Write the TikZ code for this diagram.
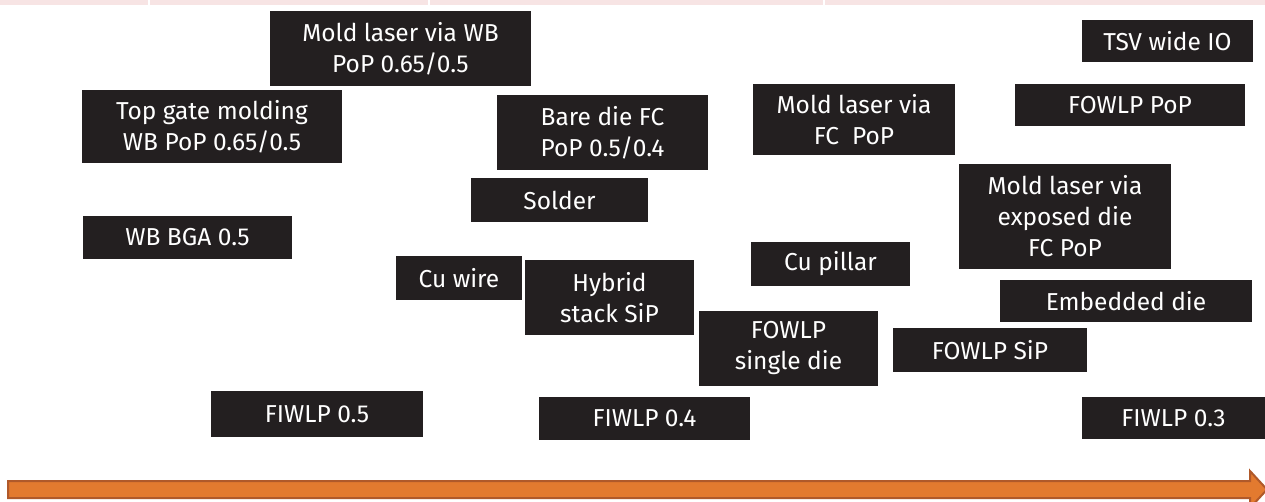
\documentclass[tikz,border=0pt]{standalone}
\usepackage{fontspec}
\setmainfont{Fira Sans}
\definecolor{boxbg}{HTML}{231F20}
\definecolor{band}{HTML}{F7E4E4}
\definecolor{arrfill}{HTML}{E37A2F}
\definecolor{arrline}{HTML}{B0592A}
\begin{document}
\begin{tikzpicture}[x=1pt,y=-1pt,
  blk/.style={fill=boxbg,draw=none,text=white,align=center,inner sep=0pt,
    font=\fontsize{24.5}{31}\selectfont},
]
\useasboundingbox (0,0) rectangle (1265,502);
\begin{scope}
\clip (0,0) rectangle (1265,502);
% top band
\fill[band] (0,0) rectangle (1265,5);
\fill[white] (148,0) rectangle (150,5);
\fill[white] (428,0) rectangle (430,5);
\fill[white] (823,0) rectangle (825,5);
% boxes
\newcommand{\bx}[6]{\node[blk,minimum width=#4-#2,minimum height=#5-#3] (#1) at ({(#2+#4)/2},{(#3+#5)/2}) {#6};}
\bx{mwb}{270}{11}{531}{86}{Mold laser via WB\\PoP 0.65/0.5}
\bx{tsv}{1082}{20}{1253}{62}{TSV wide IO}
\bx{tgm}{82}{90}{342}{163}{Top gate molding\\WB PoP 0.65/0.5}
\bx{bdf}{497}{95}{708}{170}{Bare die FC\\PoP 0.5/0.4}
\bx{mfc}{753}{84}{955}{155}{Mold laser via\\FC\ \ PoP}
\bx{fpp}{1015}{84}{1245}{126}{FOWLP PoP}
\bx{sol}{471}{178}{648}{222}{Solder}
\bx{med}{959}{164}{1171}{269}{Mold laser via\\exposed die\\FC PoP}
\bx{wbb}{83}{216}{292}{259}{WB BGA 0.5}
\bx{cuw}{396}{256}{522}{300}{Cu wire}
\bx{hyb}{525}{260}{694}{335}{Hybrid\\stack SiP}
\bx{cup}{751}{242}{910}{286}{Cu pillar}
\bx{emb}{1000}{280}{1252}{322}{Embedded die}
\bx{fsd}{699}{311}{878}{386}{FOWLP\\single die}
\bx{fsi}{893}{328}{1087}{372}{FOWLP SiP}
\bx{fi5}{211}{391}{423}{437}{FIWLP 0.5}
\bx{fi4}{539}{397}{750}{440}{FIWLP 0.4}
\bx{fi3}{1082}{397}{1265}{439}{FIWLP 0.3}
% arrow
\coordinate (atail) at (8,489.5);
\coordinate (atip) at (1267,489.5);
\filldraw[fill=arrfill,draw=arrline,line width=2pt,line join=miter]
  (8,481) -- (1250,481) -- (1250,471) -- (atip) -- (1250,508) -- (1250,498) -- (8,498) -- cycle;
\end{scope}
\end{tikzpicture}
\end{document}
